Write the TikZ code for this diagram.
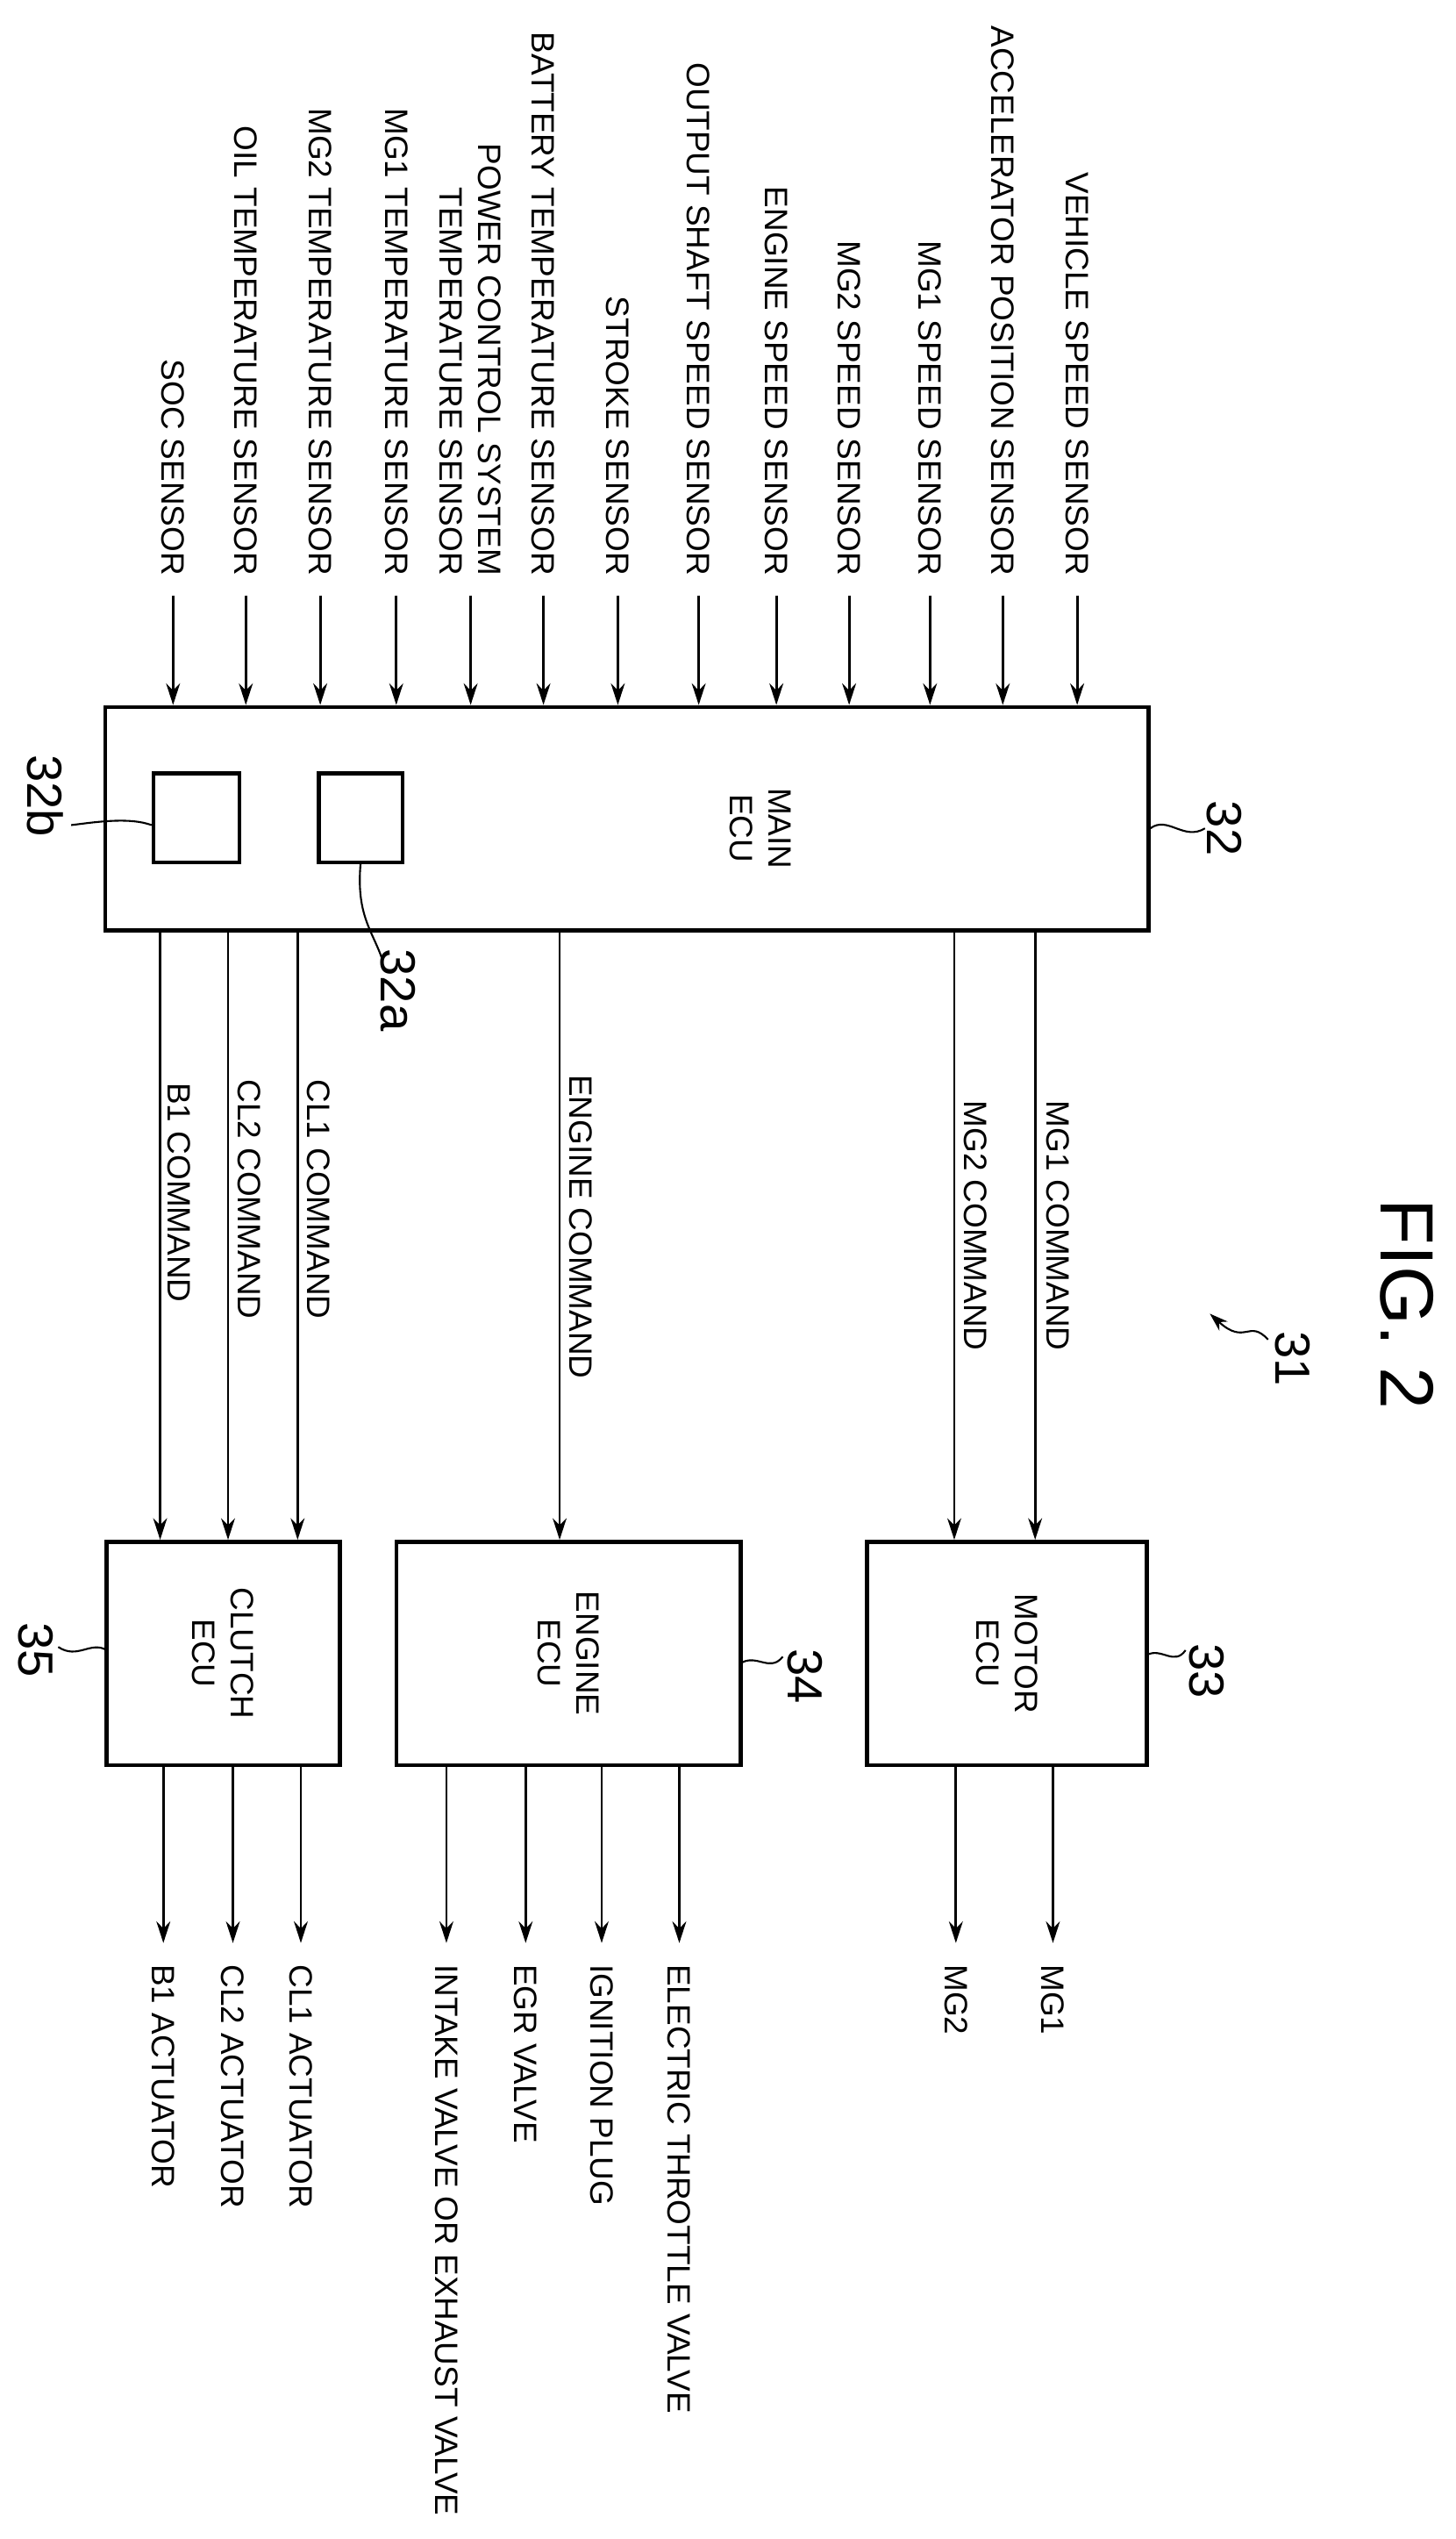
\documentclass[tikz,border=0pt]{standalone}
\usepackage{fontspec}
\setmainfont{Liberation Sans}
\usetikzlibrary{arrows.meta,fit}
\begin{document}
\begin{tikzpicture}[x=0.1844mm,y=-0.1844mm,
  box/.style={draw,line width=1.3pt,inner sep=0pt},
  arr/.style={line width=0.8pt,-{Stealth[length=7pt,width=4.5pt]}},
  lead/.style={line width=0.6pt},
  txt/.style={font=\fontsize{10.5}{12.5}\selectfont,rotate=-90,inner sep=0pt},
  sens/.style={txt,anchor=east,align=right},
  cmd/.style={txt,anchor=west},
  outl/.style={txt,anchor=west},
  ref/.style={font=\fontsize{16}{16}\selectfont,rotate=-90,inner sep=0pt}]
\useasboundingbox[fill=white] (0,0) rectangle (900,1569.4);
% boxes
\node[box,fit={(65,437)(710,575)}] (main) {};
\node[box,fit={(95,478)(148,533)}] (b32b) {};
\node[box,fit={(197,478)(249,533)}] (b32a) {};
\node[box,fit={(536,953)(709,1091)}] (motor) {};
\node[box,fit={(245,953)(458,1091)}] (engine) {};
\node[box,fit={(66,953)(210,1091)}] (clutch) {};
\node[txt,align=center] (tmain) at (470,512) {MAIN\\ECU};
\node[txt,align=center] (tm) at (motor.center) {MOTOR\\ECU};
\node[txt,align=center] (te) at (engine.center) {ENGINE\\ECU};
\node[txt,align=center] (tc) at (clutch.center) {CLUTCH\\ECU};
% sensors
\foreach \n/\x/\t in {s1/107/SOC SENSOR,s2/152/OIL TEMPERATURE SENSOR,s3/198/MG2 TEMPERATURE SENSOR,
  s4/245/MG1 TEMPERATURE SENSOR,s5/291/{POWER CONTROL SYSTEM\\TEMPERATURE SENSOR},
  s6/336/BATTERY TEMPERATURE SENSOR,s7/382/STROKE SENSOR,s8/432/OUTPUT SHAFT SPEED SENSOR,
  s9/480/ENGINE SPEED SENSOR,s10/525/MG2 SPEED SENSOR,s11/575/MG1 SPEED SENSOR,
  s12/620/ACCELERATOR POSITION SENSOR,s13/666/VEHICLE SPEED SENSOR}{
  \node[sens] (\n) at (\x,356) {\t};
  \coordinate (\n a) at (\x,368);
  \draw[arr] (\n a) -- (\n a |- main.north);
}
% commands
\foreach \n/\x/\tx/\ty/\t/\tgt in {c1/640/654/680/MG1 COMMAND/motor,c2/590/603/680/MG2 COMMAND/motor,
  c3/346/359/664/ENGINE COMMAND/engine,c4/184/197/667/CL1 COMMAND/clutch,
  c5/141/154/667/CL2 COMMAND/clutch,c6/99/111/669/B1 COMMAND/clutch}{
  \coordinate (\n a) at (\x,575);
  \draw[arr] (\n a) -- (\n a |- \tgt.north);
  \node[cmd] (\n) at (\tx,\ty) {\t};
}
% outputs
\foreach \n/\x/\t/\src in {o1/651/MG1/motor,o2/591/MG2/motor,o3/420/ELECTRIC THROTTLE VALVE/engine,
  o4/372/IGNITION PLUG/engine,o5/325/EGR VALVE/engine,o6/276/INTAKE VALVE OR EXHAUST VALVE/engine,
  o7/186/CL1 ACTUATOR/clutch,o8/144/CL2 ACTUATOR/clutch,o9/101/B1 ACTUATOR/clutch}{
  \coordinate (\n a) at (\x,1201);
  \node[outl] (\n) at (\x,1214) {\t};
  \draw[arr] (\n a |- \src.south) -- (\n a);
}
% reference numerals
\node[ref] (r32) at (757,512) {32};
\draw[lead] (main.east |- r32) .. controls (722,504) and (732,520) .. (745,512);
\node[ref] (r32b) at (28,492) {32b};
\draw[lead] (b32b.west |- 0,510) .. controls (80,505) and (60,508) .. (44,510);
\node[ref] (r32a) at (246,612) {32a};
\draw[lead] (223,533) .. controls (220,565) and (230,575) .. (236,592);
\node[ref] (r33) at (746,1033) {33};
\draw[lead] (709,1023) .. controls (718,1018) and (726,1030) .. (733,1020);
\node[ref] (r34) at (498,1036) {34};
\draw[lead] (458,1028) .. controls (468,1022) and (476,1034) .. (484,1024);
\node[ref] (r35) at (22,1020) {35};
\draw[lead] (66,1020) .. controls (56,1014) and (48,1026) .. (36,1018);
\node[ref] (r31) at (799,840) {31};
\draw[lead,-{Stealth[length=6pt,width=4pt]}] (784,828) .. controls (772,815) and (770,832) .. (748,812);
\node[font=\fontsize{24.5}{25}\selectfont,rotate=-90,inner sep=0pt] (fig) at (870,806) {FIG. 2};
\end{tikzpicture}
\end{document}
